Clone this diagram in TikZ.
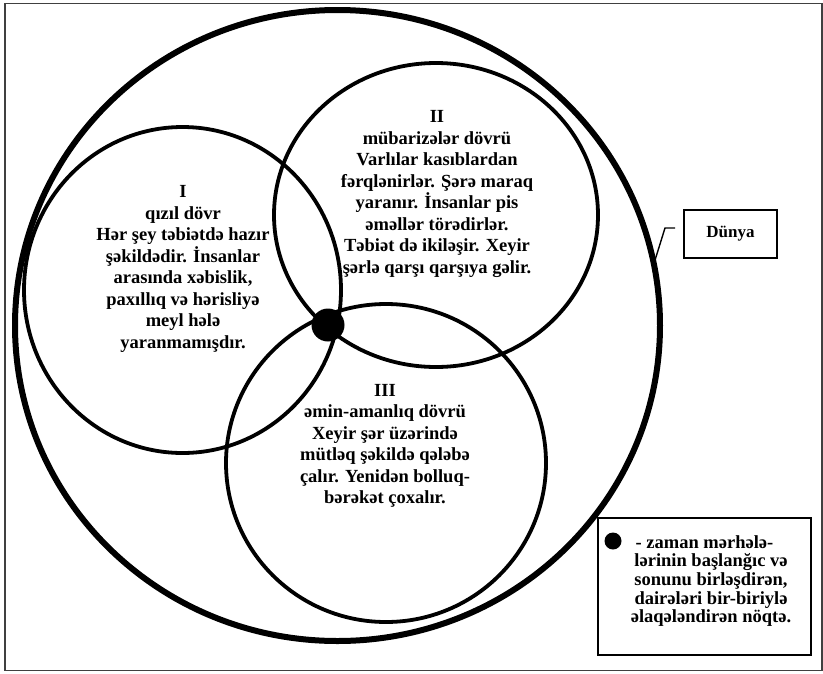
\documentclass[tikz,border=0pt]{standalone}
\usepackage{fontspec}
\setmainfont{Liberation Serif}
\usetikzlibrary{shapes.geometric}
\begin{document}
\begin{tikzpicture}[x=1pt,y=-1pt,
  ring/.style={draw, ellipse, line width=3.8pt, inner sep=0pt, outer sep=0pt},
  bigring/.style={draw, ellipse, line width=6pt, inner sep=0pt, outer sep=0pt},
  txt/.style={align=center, inner sep=0pt, font=\fontsize{18.5}{21.5}\selectfont\bfseries},
  legtxt/.style={align=center, inner sep=0pt, font=\fontsize{18.5}{18.6}\selectfont\bfseries},
  box/.style={draw, line width=1.6pt, inner sep=0pt},
  frame/.style={draw=black!75, line width=1.8pt},
  link/.style={draw, line width=1.4pt}]
\useasboundingbox (0,0) rectangle (823,673);
\draw[frame] (5,3.5) rectangle (822,670.5);
% big world ellipse
\node[bigring, minimum width=645pt, minimum height=631pt] (world) at (337.5,325.5) {};
% three circles
\node[ring, minimum width=317pt, minimum height=326pt] (c1) at (182.5,290) {};
\node[ring, minimum width=324pt, minimum height=304pt] (c2) at (436,215) {};
\node[ring, minimum width=320pt, minimum height=318pt] (c3) at (386,463) {};
% central dot
\node[circle, fill=black, minimum size=33pt, inner sep=0pt] (dot) at (328,325) {};
% texts
\node[txt] (t1) at (183,269) {I\\qızıl dövr\\Hər şey təbiətdə hazır\\şəkildədir. İnsanlar\\arasında xəbislik,\\paxıllıq və hərisliyə\\meyl hələ\\yaranmamışdır.};
\node[txt] (t2) at (437,194) {II\\mübarizələr dövrü\\Varlılar kasıblardan\\fərqlənirlər. Şərə maraq\\yaranır. İnsanlar pis\\əməllər törədirlər.\\Təbiət də ikiləşir. Xeyir\\şərlə qarşı qarşıya gəlir.};
\node[txt] (t3) at (385,446) {III\\əmin-amanlıq dövrü\\Xeyir şər üzərində\\mütləq şəkildə qələbə\\çalır. Yenidən bolluq-\\bərəkət çoxalır.};
% Dunya label
\node[box, minimum width=93pt, minimum height=48pt, font=\fontsize{17}{19}\selectfont\bfseries] (dunya) at (730.5,234) {Dünya};
\coordinate (k1) at (675,228);
\coordinate (k2) at (665,228);
\draw[link] (k1) -- (k2) -- (world.11);
% legend
\node[box, minimum width=213pt, minimum height=137pt] (legend) at (704.5,586.5) {};
\node[circle, fill=black, minimum size=17pt, inner sep=0pt] (ldot) at (613,541) {};
\node[legtxt] (ltext) at (711,581) {- zaman mərhələ-\hspace*{13pt}\\lərinin başlanğıc və\\sonunu birləşdirən,\\dairələri bir-biriylə\\əlaqələndirən nöqtə.};
\end{tikzpicture}
\end{document}
